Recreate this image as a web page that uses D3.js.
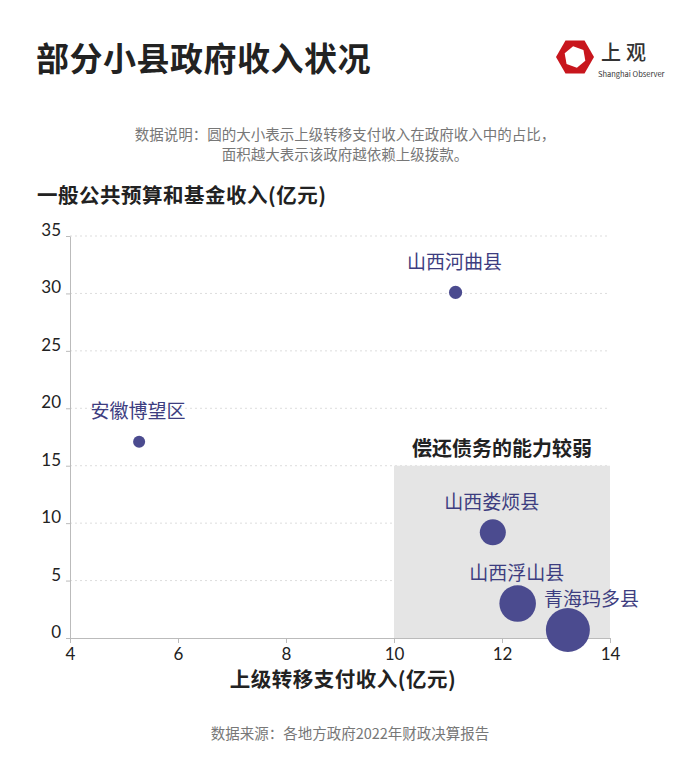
<!DOCTYPE html>
<html>

<head>
    <meta charset="utf-8">
    <title>部分小县政府收入状况</title>
    <script src="https://d3js.org/d3.v7.min.js"></script>
    <style>
        body { margin: 0; background: #fff; }
        text { font-family: "Noto Sans CJK SC", "Noto Sans", sans-serif; }
        .tick-label { font-family: Lato, "DejaVu Sans", sans-serif; font-weight: 400; }
    </style>
    <script>
    // county names and values
    var counties = ["安徽博望区", "山西河曲县", "山西娄烦县", "山西浮山县", "青海玛多县"];
    var transferIncome = [5.28, 11.14, 11.83, 12.29, 13.22];   // 上级转移支付收入 (亿元)
    var ownIncome = [17.08, 30.09, 9.2, 3.0, 0.7];              // 一般公共预算和基金收入 (亿元)
    var transferShare = [7.5, 9, 35, 69, 100];                  // 圆的大小 (relative)
    var xTicks = [4, 6, 8, 10, 12, 14];
    var yTicks = [0, 5, 10, 15, 20, 25, 30, 35];

    function drawChart() {
        var svg = d3.select("body").append("svg").attr("width", 700).attr("height", 766);

        var x = d3.scaleLinear().domain([4, 14]).range([70, 610]);
        var y = d3.scaleLinear().domain([0, 35]).range([638, 236]);
        var r = d3.scaleSqrt().domain([0, 100]).range([0, 22]);

        var data = counties.map(function(name, i) {
            return { name: name, x: transferIncome[i], y: ownIncome[i], s: transferShare[i] };
        });

        // title
        svg.append("text").attr("x", 36).attr("y", 57).attr("dominant-baseline", "central")
            .attr("font-size", 33).attr("font-weight", 700).attr("fill", "#222").attr("letter-spacing", 0.5)
            .text("部分小县政府收入状况");

        // logo
        var logo = svg.append("g").attr("transform", "translate(575,57)");
        var hex = function(rad, rot) {
            return d3.range(6).map(function(k) {
                var a = Math.PI / 3 * k + rot;
                return [rad * Math.cos(a), rad * Math.sin(a)];
            });
        };
        logo.append("polygon").attr("points", hex(19, 0).join(" ")).attr("fill", "#c8161d");
        logo.append("polygon").attr("points", hex(11, 0.35).join(" ")).attr("fill", "#fff");
        logo.append("text").attr("x", 26).attr("y", -6).attr("dominant-baseline", "central")
            .attr("font-size", 20).attr("font-weight", 500).attr("fill", "#333").attr("letter-spacing", 5).text("上观");
        logo.append("text").attr("x", 23).attr("y", 16).attr("dominant-baseline", "central")
            .attr("font-size", 7.5).attr("fill", "#333").attr("font-family", "Liberation Sans").text("Shanghai Observer");

        // note
        svg.append("text").attr("x", 345).attr("y", 133).attr("text-anchor", "middle").attr("dominant-baseline", "central")
            .attr("font-size", 14.5).attr("fill", "#777").text("数据说明：圆的大小表示上级转移支付收入在政府收入中的占比，");
        svg.append("text").attr("x", 345).attr("y", 153).attr("text-anchor", "middle").attr("dominant-baseline", "central")
            .attr("font-size", 14.5).attr("fill", "#777").text("面积越大表示该政府越依赖上级拨款。");

        // y axis title
        svg.append("text").attr("x", 37).attr("y", 194).attr("dominant-baseline", "central")
            .attr("font-size", 20.5).attr("font-weight", 700).attr("fill", "#222").attr("letter-spacing", 0.5)
            .text("一般公共预算和基金收入(亿元)");

        // gridlines
        svg.selectAll(".grid").data(yTicks.filter(function(d) { return d > 0; })).enter().append("line")
            .attr("x1", x(4)).attr("x2", x(14))
            .attr("y1", function(d) { return y(d); }).attr("y2", function(d) { return y(d); })
            .attr("stroke", "#ddd").attr("stroke-dasharray", "2,3");

        // weak zone box
        svg.append("rect").attr("x", x(10)).attr("y", y(15))
            .attr("width", x(14) - x(10)).attr("height", y(0) - y(15)).attr("fill", "#e5e5e5");
        svg.append("text").attr("x", x(12)).attr("y", 447).attr("text-anchor", "middle").attr("dominant-baseline", "central")
            .attr("font-size", 20).attr("font-weight", 700).attr("fill", "#222").text("偿还债务的能力较弱");

        // axes
        var xAxis = svg.append("g").attr("transform", "translate(0," + y(0) + ")")
            .call(d3.axisBottom(x).tickValues(xTicks).tickSize(5).tickSizeOuter(0));
        var yAxis = svg.append("g").attr("transform", "translate(" + x(4) + ",0)")
            .call(d3.axisLeft(y).tickValues(yTicks).tickSize(4).tickSizeOuter(0));
        [xAxis, yAxis].forEach(function(a) {
            a.select(".domain").attr("stroke", "#bbb");
            a.selectAll(".tick line").attr("stroke", "#bbb");
            a.selectAll(".tick text").attr("class", "tick-label").attr("font-size", 17).attr("fill", "#222");
        });
        xAxis.selectAll(".tick text").attr("dy", null).attr("y", 15).attr("dominant-baseline", "central");
        yAxis.selectAll(".tick text").attr("dy", null).attr("x", -9).attr("y", -7).attr("dominant-baseline", "central");

        svg.append("text").attr("x", 343).attr("y", 678).attr("text-anchor", "middle").attr("dominant-baseline", "central")
            .attr("font-size", 20.5).attr("font-weight", 700).attr("fill", "#222").attr("letter-spacing", 0.5)
            .text("上级转移支付收入(亿元)");

        // bubbles
        svg.selectAll(".bubble").data(data).enter().append("circle")
            .attr("cx", function(d) { return x(d.x); })
            .attr("cy", function(d) { return y(d.y); })
            .attr("r", function(d) { return r(d.s); })
            .attr("fill", "#4b4b8f");

        // labels (the last one sits to the right so it doesn't collide)
        svg.selectAll(".label").data(data).enter().append("text")
            .attr("x", function(d, i) { return i === data.length - 1 ? x(d.x) - 24 : x(d.x) - 1; })
            .attr("y", function(d) { return y(d.y) - 32; })
            .attr("text-anchor", function(d, i) { return i === data.length - 1 ? "start" : "middle"; })
            .attr("dominant-baseline", "central")
            .attr("font-size", 19).attr("fill", "#3d3d80")
            .text(function(d) { return d.name; });

        // source
        svg.append("text").attr("x", 350).attr("y", 732).attr("text-anchor", "middle").attr("dominant-baseline", "central")
            .attr("font-size", 14.5).attr("fill", "#777").text("数据来源：各地方政府2022年财政决算报告");
    }
    </script>
</head>

<body onload="drawChart()">
</body>

</html>
